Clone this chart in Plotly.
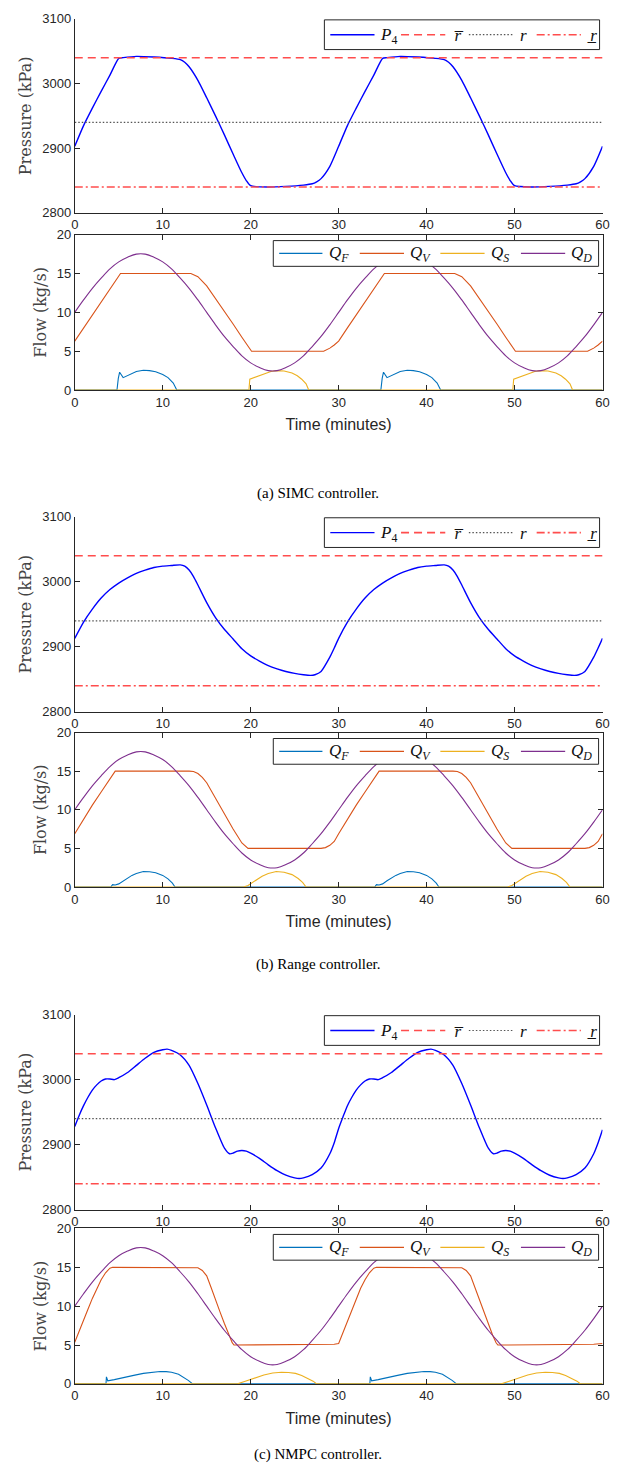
import plotly.graph_objects as go

# ---------------- shared data ----------------
ref_upper = 3040.0   # r-bar
ref_mid = 2940.0     # r
ref_lower = 2840.0   # r-underbar

t_qd = list(range(0, 61))
qd = [10.0, 11.6, 13.1, 14.4, 15.6, 16.5, 17.1, 17.5, 17.5, 17.1, 16.5, 15.6, 14.4, 13.1, 11.6,
      10.0, 8.4, 6.9, 5.6, 4.4, 3.5, 2.9, 2.5, 2.5, 2.9, 3.5, 4.4, 5.6, 6.9, 8.4,
      10.0, 11.6, 13.1, 14.4, 15.6, 16.5, 17.1, 17.5, 17.5, 17.1, 16.5, 15.6, 14.4, 13.1, 11.6,
      10.0, 8.4, 6.9, 5.6, 4.4, 3.5, 2.9, 2.5, 2.5, 2.9, 3.5, 4.4, 5.6, 6.9, 8.4, 10.0]

# ---------------- (a) SIMC ----------------
t_p_a = [0, 1, 2, 3, 4, 5, 5.5, 7, 9, 11, 12, 12.5, 13, 14, 15, 16, 17, 18, 19, 19.5, 20, 22, 24, 26, 27, 27.5, 28, 29,
         30, 31, 32, 33, 34, 35, 35.5, 37, 39, 41, 42, 42.5, 43, 44, 45, 46, 47, 48, 49, 49.5, 50, 52, 54, 56, 57, 57.5, 58, 59, 60]
p_a = [2903, 2935, 2962, 2988, 3013, 3039, 3040, 3042, 3041, 3039, 3037, 3033, 3026, 3005, 2978, 2950, 2921, 2891, 2862, 2850, 2842, 2840, 2841, 2843, 2845, 2848, 2853, 2872,
       2903, 2935, 2962, 2988, 3013, 3039, 3040, 3042, 3041, 3039, 3037, 3033, 3026, 3005, 2978, 2950, 2921, 2891, 2862, 2850, 2842, 2840, 2841, 2843, 2845, 2848, 2853, 2872, 2903]

t_qf_a = [0, 4.8, 4.95, 5.1, 5.5, 6.0, 6.5, 7.0, 7.8, 8.5, 9.2, 10.0, 10.6, 11.2, 11.6,
          34.8, 34.95, 35.1, 35.5, 36.0, 36.5, 37.0, 37.8, 38.5, 39.2, 40.0, 40.6, 41.2, 41.6, 60]
qf_a = [0, 0, 1.5, 2.3, 1.6, 1.9, 2.2, 2.4, 2.55, 2.5, 2.35, 2.0, 1.6, 0.9, 0,
        0, 1.5, 2.3, 1.6, 1.9, 2.2, 2.4, 2.55, 2.5, 2.35, 2.0, 1.6, 0.9, 0, 0]

t_qv_a = [0, 1, 2, 3, 4, 5, 5.2, 13.2, 14, 15, 16, 17, 18, 19, 20.1, 28.3, 29, 29.5,
          30, 31, 32, 33, 34, 35, 35.2, 43.2, 44, 45, 46, 47, 48, 49, 50.1, 58.3, 59, 59.5, 60]
qv_a = [6.3, 8.0, 9.7, 11.4, 13.1, 14.8, 15, 15, 14.6, 13.4, 11.8, 10.1, 8.5, 6.8, 5, 5, 5.4, 5.8,
        6.3, 8.0, 9.7, 11.4, 13.1, 14.8, 15, 15, 14.6, 13.4, 11.8, 10.1, 8.5, 6.8, 5, 5, 5.4, 5.8, 6.3]

t_qs_a = [0, 19.8, 19.9, 20.6, 21.5, 22.3, 22.9, 23.8, 24.7, 25.3, 25.8, 26.3, 26.6,
          49.8, 49.9, 50.6, 51.5, 52.3, 52.9, 53.8, 54.7, 55.3, 55.8, 56.3, 56.6, 60]
qs_a = [0, 0, 1.4, 1.7, 2.15, 2.4, 2.5, 2.45, 2.2, 1.85, 1.4, 0.8, 0,
        0, 1.4, 1.7, 2.15, 2.4, 2.5, 2.45, 2.2, 1.85, 1.4, 0.8, 0, 0]

# ---------------- (b) Range controller ----------------
t_p_b = [0, 1, 2, 3, 4, 5, 6, 7, 8, 9, 10, 11, 12, 12.5, 13, 13.5, 14, 15, 16, 17, 18, 19, 20, 21, 22, 23, 24, 25, 26, 26.8, 27.3, 28, 29, 29.5,
         30, 31, 32, 33, 34, 35, 36, 37, 38, 39, 40, 41, 42, 42.5, 43, 43.5, 44, 45, 46, 47, 48, 49, 50, 51, 52, 53, 54, 55, 56, 56.8, 57.3, 58, 59, 59.5, 60]
p_b = [2913, 2938, 2958, 2975, 2988, 2998, 3006, 3013, 3018, 3022, 3024, 3025, 3026, 3024, 3018, 3008, 2995, 2968, 2945, 2927, 2912, 2897, 2886, 2878, 2871, 2866, 2862, 2859, 2857, 2856, 2857, 2862, 2884, 2898,
       2913, 2938, 2958, 2975, 2988, 2998, 3006, 3013, 3018, 3022, 3024, 3025, 3026, 3024, 3018, 3008, 2995, 2968, 2945, 2927, 2912, 2897, 2886, 2878, 2871, 2866, 2862, 2859, 2857, 2856, 2857, 2862, 2884, 2898, 2913]

t_qf_b = [0, 4.1, 4.3, 4.6, 5.0, 5.5, 6.0, 6.5, 7.0, 7.8, 8.5, 9.2, 10.0, 10.6, 11.1, 11.4,
          34.1, 34.3, 34.6, 35.0, 35.5, 36.0, 36.5, 37.0, 37.8, 38.5, 39.2, 40.0, 40.6, 41.1, 41.4, 60]
qf_b = [0, 0, 0.3, 0.25, 0.4, 0.8, 1.2, 1.5, 1.75, 2.0, 1.97, 1.85, 1.5, 1.05, 0.5, 0,
        0, 0.3, 0.25, 0.4, 0.8, 1.2, 1.5, 1.75, 2.0, 1.97, 1.85, 1.5, 1.05, 0.5, 0, 0]

t_qv_b = [0, 1, 2, 3, 4, 4.6, 13, 13.5, 14, 14.5, 15, 16, 17, 18, 19, 19.7, 28, 28.5, 29, 29.5,
          30, 31, 32, 33, 34, 34.6, 43, 43.5, 44, 44.5, 45, 46, 47, 48, 49, 49.7, 58, 58.5, 59, 59.5, 60]
qv_b = [6.9, 8.8, 10.6, 12.3, 14.0, 15, 15, 14.95, 14.7, 14.2, 13.5, 11.5, 9.4, 7.5, 5.7, 5.0, 5.0, 5.1, 5.4, 5.9,
        6.9, 8.8, 10.6, 12.3, 14.0, 15, 15, 14.95, 14.7, 14.2, 13.5, 11.5, 9.4, 7.5, 5.7, 5.0, 5.0, 5.1, 5.4, 5.9, 6.9]

t_qs_b = [0, 19.2, 19.7, 20.1, 20.6, 21.3, 22.0, 22.9, 23.8, 24.7, 25.4, 25.9, 26.3,
          49.2, 49.7, 50.1, 50.6, 51.3, 52.0, 52.9, 53.8, 54.7, 55.4, 55.9, 56.3, 60]
qs_b = [0, 0, 0.2, 0.5, 0.9, 1.4, 1.75, 2.0, 1.9, 1.6, 1.1, 0.6, 0,
        0, 0.2, 0.5, 0.9, 1.4, 1.75, 2.0, 1.9, 1.6, 1.1, 0.6, 0, 0]

# ---------------- (c) NMPC ----------------
t_p_c = [0, 0.5, 1, 1.5, 2, 2.5, 3, 3.5, 4, 4.5, 5, 6, 7, 8, 9, 10, 10.5, 11, 12, 13, 14, 15, 16, 17, 17.6, 18, 18.5, 19, 19.5, 20, 21, 22, 23, 24, 25, 25.5, 26, 27, 28, 29, 29.5,
         30, 30.5, 31, 31.5, 32, 32.5, 33, 33.5, 34, 34.5, 35, 36, 37, 38, 39, 40, 40.5, 41, 42, 43, 44, 45, 46, 47, 47.6, 48, 48.5, 49, 49.5, 50, 51, 52, 53, 54, 55, 55.5, 56, 57, 58, 59, 59.5, 60]
p_c = [2928, 2945, 2960, 2973, 2984, 2992, 2998, 3001, 3001, 3000, 3003, 3011, 3022, 3033, 3042, 3046, 3047, 3045, 3038, 3022, 2994, 2961, 2926, 2895, 2886, 2887, 2890, 2891, 2890, 2887, 2879, 2869, 2860, 2853, 2849, 2848, 2849, 2854, 2864, 2886, 2903,
       2925, 2943, 2960, 2973, 2984, 2992, 2998, 3001, 3001, 3000, 3003, 3011, 3022, 3033, 3042, 3046, 3047, 3045, 3038, 3022, 2994, 2961, 2926, 2895, 2886, 2887, 2890, 2891, 2890, 2887, 2879, 2869, 2860, 2853, 2849, 2848, 2849, 2854, 2864, 2886, 2903, 2923]

t_qf_c = [0, 3.55, 3.6, 3.75, 4.5, 5.6, 6.7, 7.8, 8.8, 9.7, 10.4, 11.0, 11.8, 12.4, 12.9, 13.4,
          33.55, 33.6, 33.75, 34.5, 35.6, 36.7, 37.8, 38.8, 39.7, 40.4, 41.0, 41.8, 42.4, 42.9, 43.4, 60]
qf_c = [0, 0, 0.9, 0.4, 0.55, 0.85, 1.1, 1.35, 1.52, 1.6, 1.58, 1.5, 1.25, 0.85, 0.45, 0,
        0, 0.9, 0.4, 0.55, 0.85, 1.1, 1.35, 1.52, 1.6, 1.58, 1.5, 1.25, 0.85, 0.45, 0, 0]

t_qv_c = [0, 0.5, 1, 1.5, 2, 2.5, 3, 3.5, 4, 4.3, 14, 14.5, 15, 15.5, 16, 16.5, 17, 17.5, 17.9, 18.1, 29, 29.5,
          30, 30.5, 31, 31.5, 32, 32.5, 33, 33.5, 34, 34.3, 44, 44.5, 45, 45.5, 46, 46.5, 47, 47.5, 47.9, 48.1, 59, 59.5, 60]
qv_c = [5.35, 6.7, 8.2, 9.6, 11.0, 12.3, 13.4, 14.3, 14.9, 15, 14.95, 14.6, 13.9, 12.4, 10.7, 9.3, 7.8, 6.3, 5.3, 5.0, 5.05, 5.1,
        5.2, 6.6, 8.2, 9.6, 11.0, 12.3, 13.4, 14.3, 14.9, 15, 14.95, 14.6, 13.9, 12.4, 10.7, 9.3, 7.8, 6.3, 5.3, 5.0, 5.1, 5.15, 5.2]

t_qs_c = [0, 18.5, 19.3, 20.1, 21.5, 22.5, 23.5, 24.3, 25.1, 25.8, 26.5, 27.1, 27.5,
          48.5, 49.3, 50.1, 51.5, 52.5, 53.5, 54.3, 55.1, 55.8, 56.5, 57.1, 57.5, 60]
qs_c = [0, 0, 0.3, 0.63, 1.14, 1.4, 1.5, 1.47, 1.35, 1.08, 0.72, 0.35, 0,
        0, 0.3, 0.63, 1.14, 1.4, 1.5, 1.47, 1.35, 1.08, 0.72, 0.35, 0, 0]

pressure_ticks = [2800, 2900, 3000, 3100]
flow_ticks = [0, 5, 10, 15, 20]
time_ticks = [0, 10, 20, 30, 40, 50, 60]
captions = ["(a) SIMC controller.", "(b) Range controller.", "(c) NMPC controller."]

panels = [
    dict(tp=t_p_a, p=p_a, tqf=t_qf_a, qf=qf_a, tqv=t_qv_a, qv=qv_a, tqs=t_qs_a, qs=qs_a),
    dict(tp=t_p_b, p=p_b, tqf=t_qf_b, qf=qf_b, tqv=t_qv_b, qv=qv_b, tqs=t_qs_b, qs=qs_b),
    dict(tp=t_p_c, p=p_c, tqf=t_qf_c, qf=qf_c, tqv=t_qv_c, qv=qv_c, tqs=t_qs_c, qs=qs_c),
]

# ---------------- layout geometry (pixels) ----------------
W, H = 639, 1479
X0, X1 = 72, 609
pressure_px = [(12, 208), (515, 712), (1018, 1215)]
flow_px = [(230, 387), (733, 889), (1234, 1391)]
caption_px = [491, 967, 1462]

def px_x(x):
    return x / W

def px_y(y):
    return 1 - y / H

AX_COLOR = "#262626"
SERIF = "Liberation Serif"
SANS = "Liberation Sans"
LABEL_SERIF = "DejaVu Serif"
C_P4 = "#0000ff"
C_QF, C_QV, C_QS, C_QD = "#0072BD", "#D95319", "#EDB120", "#7E2F8E"
C_REF = "#ff4d4d"
C_MID = "#555555"
DASH_UP = "8px,5px"
DASH_MID = "1.5px,2px"
DASH_LOW = "8px,3px,2px,3px"

# legend entries drawn inside each panel: (label, colour, dash, width, line x0, line x1, text x)
pressure_legend = [
    ("<i>P</i><sub>4</sub>", C_P4, "solid", 1.4, 332, 377, 381),
    ("<i>r\u0305</i>", C_REF, DASH_UP, 1.6, 404, 449, 456),
    ("<i>r</i>", C_MID, DASH_MID, 1.2, 473, 518, 523),
    ("<i>r\u0332</i>", C_REF, DASH_LOW, 1.6, 542, 587, 591),
]
flow_legend = [
    ("<i>Q<sub>F</sub></i>", C_QF, "solid", 1.2, 280, 324, 329),
    ("<i>Q<sub>V</sub></i>", C_QV, "solid", 1.2, 362, 407, 411),
    ("<i>Q<sub>S</sub></i>", C_QS, "solid", 1.2, 444, 489, 494),
    ("<i>Q<sub>D</sub></i>", C_QD, "solid", 1.2, 526, 571, 575),
]

fig = go.Figure()
layout = dict(
    width=W, height=H, margin=dict(l=0, r=0, t=0, b=0),
    paper_bgcolor="white", plot_bgcolor="white", showlegend=False,
)

annotations = []
shapes = []


def add_legend(entries, box_x0, box_x1, box_top, box_bottom):
    shapes.append(dict(type="rect", xref="paper", yref="paper", layer="above",
                       x0=px_x(box_x0), x1=px_x(box_x1), y0=px_y(box_bottom), y1=px_y(box_top),
                       fillcolor="white", line=dict(color=AX_COLOR, width=1)))
    yc = (box_top + box_bottom) / 2
    for label, color, dash, width, lx0, lx1, tx in entries:
        shapes.append(dict(type="line", xref="paper", yref="paper", layer="above",
                           x0=px_x(lx0), x1=px_x(lx1), y0=px_y(yc), y1=px_y(yc),
                           line=dict(color=color, width=width, dash=dash)))
        annotations.append(dict(text=label, x=px_x(tx), y=px_y(yc + 1), xref="paper", yref="paper",
                                showarrow=False, xanchor="left", yanchor="middle",
                                font=dict(family=SERIF, size=17, color="#111111")))


for i, pnl in enumerate(panels):
    ax_p = 2 * i + 1
    ax_f = 2 * i + 2
    xa_p, ya_p = (f"x{ax_p}", f"y{ax_p}") if ax_p > 1 else ("x", "y")
    xa_f, ya_f = f"x{ax_f}", f"y{ax_f}"

    # pressure panel
    fig.add_trace(go.Scatter(x=pnl["tp"], y=pnl["p"], mode="lines", name="P4",
                             line=dict(color=C_P4, width=1.4, shape="spline", smoothing=0.6),
                             xaxis=xa_p, yaxis=ya_p))
    fig.add_trace(go.Scatter(x=[0, 60], y=[ref_upper, ref_upper], mode="lines", name="r upper",
                             line=dict(color=C_REF, width=1.6, dash=DASH_UP), xaxis=xa_p, yaxis=ya_p))
    fig.add_trace(go.Scatter(x=[0, 60], y=[ref_mid, ref_mid], mode="lines", name="r",
                             line=dict(color=C_MID, width=1.2, dash=DASH_MID), xaxis=xa_p, yaxis=ya_p))
    fig.add_trace(go.Scatter(x=[0, 60], y=[ref_lower, ref_lower], mode="lines", name="r lower",
                             line=dict(color=C_REF, width=1.6, dash=DASH_LOW), xaxis=xa_p, yaxis=ya_p))

    # flow panel
    fig.add_trace(go.Scatter(x=pnl["tqf"], y=pnl["qf"], mode="lines", name="QF",
                             line=dict(color=C_QF, width=1.1), xaxis=xa_f, yaxis=ya_f))
    fig.add_trace(go.Scatter(x=pnl["tqv"], y=pnl["qv"], mode="lines", name="QV",
                             line=dict(color=C_QV, width=1.1), xaxis=xa_f, yaxis=ya_f))
    fig.add_trace(go.Scatter(x=pnl["tqs"], y=pnl["qs"], mode="lines", name="QS",
                             line=dict(color=C_QS, width=1.1), xaxis=xa_f, yaxis=ya_f))
    fig.add_trace(go.Scatter(x=t_qd, y=qd, mode="lines", name="QD",
                             line=dict(color=C_QD, width=1.1, shape="spline"), xaxis=xa_f, yaxis=ya_f))

    common_x = dict(range=[0, 60], tickvals=time_ticks, ticks="inside", ticklen=5, tickwidth=1,
                    tickcolor=AX_COLOR, showline=True, linecolor=AX_COLOR, linewidth=1,
                    showgrid=False, zeroline=False,
                    tickfont=dict(family=SANS, size=13, color=AX_COLOR),
                    domain=[px_x(X0), px_x(X1)])
    common_y = dict(ticks="inside", ticklen=5, tickwidth=1, tickcolor=AX_COLOR,
                    showline=True, linecolor=AX_COLOR, linewidth=1, showgrid=False, zeroline=False,
                    tickfont=dict(family=SANS, size=13, color=AX_COLOR))

    pt, pb = pressure_px[i]
    ft, fb = flow_px[i]
    xkey_p = "xaxis" if ax_p == 1 else f"xaxis{ax_p}"
    ykey_p = "yaxis" if ax_p == 1 else f"yaxis{ax_p}"
    layout[xkey_p] = dict(common_x, anchor=ya_p)
    layout[ykey_p] = dict(common_y, anchor=xa_p, range=[2800, 3100], tickvals=pressure_ticks,
                          domain=[px_y(pb), px_y(pt)],
                          title=dict(text="Pressure (kPa)", standoff=6,
                                     font=dict(family=LABEL_SERIF, size=16, color="#444444")))
    layout[f"xaxis{ax_f}"] = dict(common_x, anchor=ya_f, mirror="ticks",
                                  title=dict(text="Time (minutes)", standoff=10,
                                             font=dict(family=SANS, size=16, color=AX_COLOR)))
    layout[f"yaxis{ax_f}"] = dict(common_y, anchor=xa_f, range=[0, 20], tickvals=flow_ticks, mirror="ticks",
                                  domain=[px_y(fb), px_y(ft)],
                                  title=dict(text="Flow (kg/s)", standoff=6,
                                             font=dict(family=LABEL_SERIF, size=16, color="#444444")))

    add_legend(pressure_legend, 326, 606, pt + 1, pt + 31)
    add_legend(flow_legend, 274, 605, ft + 6, ft + 32)

    annotations.append(dict(text=captions[i], x=0.5, y=px_y(caption_px[i]), xref="paper", yref="paper",
                            showarrow=False, xanchor="center", yanchor="middle",
                            font=dict(family=SERIF, size=15, color="black")))

layout["annotations"] = annotations
layout["shapes"] = shapes
fig.update_layout(**layout)
fig.write_html("out.html")
